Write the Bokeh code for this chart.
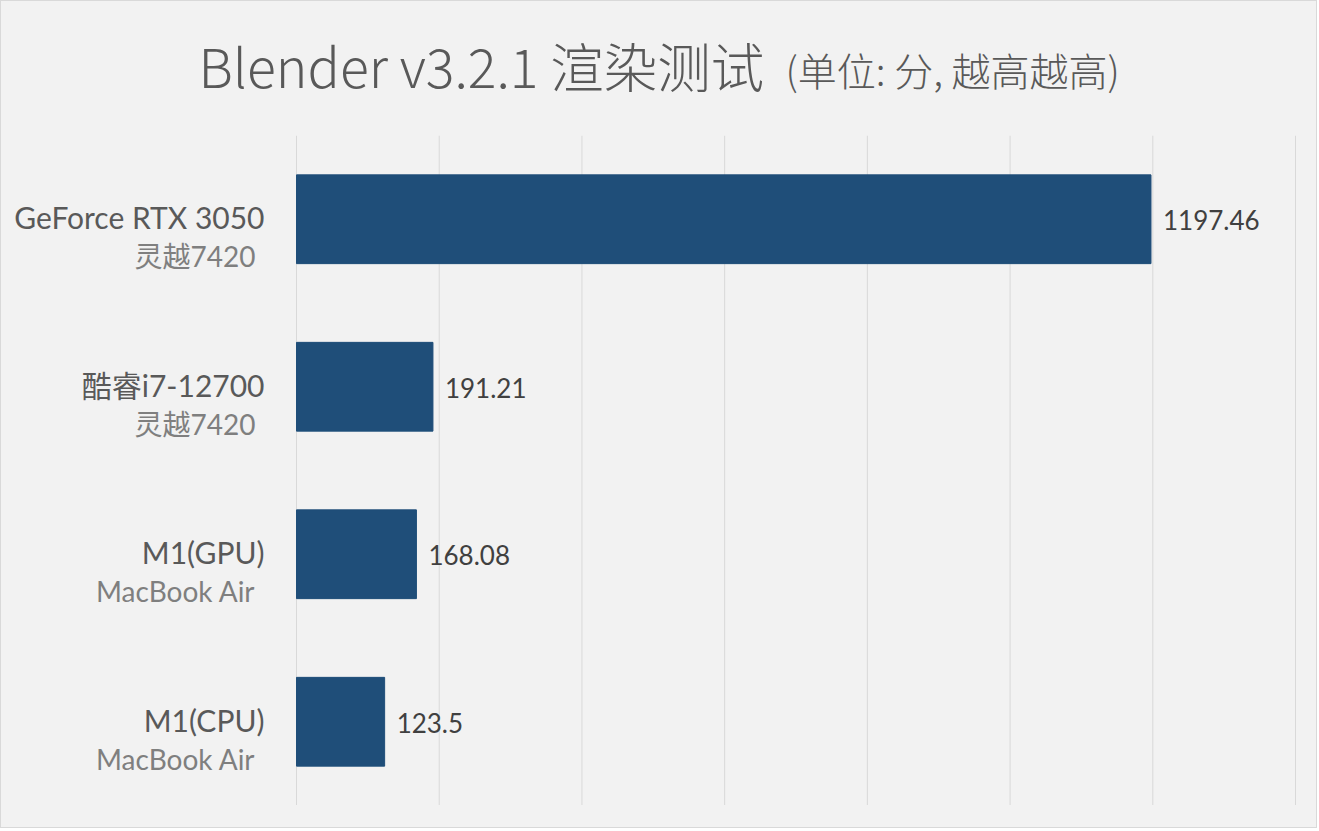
from bokeh.plotting import figure
from bokeh.layouts import column
from bokeh.models import ColumnDataSource, FactorRange, Range1d, Spacer
from bokeh.core.properties import value
from bokeh.embed import file_html
from bokeh.resources import INLINE

# ---- data ----
categories = ["GeForce RTX 3050", "酷睿i7-12700", "M1(GPU)", "M1(CPU)"]
sub_labels = ["灵越7420", "灵越7420", "MacBook Air", "MacBook Air"]
scores = [1197.46, 191.21, 168.08, 123.5]
score_labels = ["1197.46", "191.21", "168.08", "123.5"]
grid_ticks = [0, 200, 400, 600, 800, 1000, 1200, 1400]
title_main = "Blender v3.2.1 渲染测试"
title_sub = "(单位: 分, 越高越高)"

BG = "#f2f2f2"
BAR = "#1f4e79"
GRID = "#d9d9d9"
LAT = "Lato, 'Noto Sans CJK SC'"
CJK = "'Noto Sans CJK SC Light', 'Noto Sans CJK SC'"

W = 1315
TITLE_H = 134
MAIN_H = 670
FOOT_H = 22

# ---- title strip ----
t = figure(width=W, height=TITLE_H, output_backend="svg", toolbar_location=None,
           x_range=Range1d(0, W), y_range=Range1d(0, TITLE_H),
           x_axis_location=None, y_axis_location=None, min_border=0)
t.xgrid.visible = False
t.ygrid.visible = False
t.background_fill_color = BG
t.border_fill_color = BG
t.outline_line_color = None
t.text(x=[197], y=[TITLE_H - 63], text=[title_main], text_align="left", text_baseline="middle",
       text_font=value(CJK), text_font_size="53.5px", text_color="#595959")
t.text(x=[784], y=[TITLE_H - 67], text=[title_sub], text_align="left", text_baseline="middle",
       text_font=value(CJK), text_font_size="39px", text_color="#595959")

# ---- main chart ----
src = ColumnDataSource(dict(cat=categories, sub=sub_labels, score=scores,
                            label=score_labels, zero=[0] * len(categories)))
gsrc = ColumnDataSource(dict(tick=grid_ticks))

ppu = (1294 - 295) / (grid_ticks[-1] - grid_ticks[0])   # pixels per unit
p = figure(width=W, height=MAIN_H, output_backend="svg", toolbar_location=None,
           x_range=Range1d(grid_ticks[0] - 295 / ppu, grid_ticks[-1] + (W - 1294) / ppu),
           y_range=FactorRange(factors=list(reversed(categories)), range_padding=0),
           x_axis_location=None, y_axis_location=None, min_border=0)
p.xgrid.visible = False
p.ygrid.visible = False
p.background_fill_color = BG
p.border_fill_color = BG
p.outline_line_color = None

# vertical gridlines spanning the category band
p.segment(x0="tick", x1="tick", y0=0, y1=len(categories), source=gsrc,
          line_color=GRID, line_width=1)

p.hbar(y="cat", left="zero", right="score", height=0.53, source=src,
       fill_color=BAR, line_color=BAR)

# value labels
p.text(x="score", y="cat", text="label", source=src,
       x_offset=12, y_offset=1, text_align="left", text_baseline="middle",
       text_font=value(LAT), text_font_size="26px", text_color="#404040")
# category labels
p.text(x="zero", y="cat", text="cat", source=src,
       x_offset=-32, y_offset=-2, text_align="right", text_baseline="middle",
       text_font=value(LAT), text_font_size="30px", text_color="#595959")
p.text(x="zero", y="cat", text="sub", source=src,
       x_offset=-41, y_offset=37, text_align="right", text_baseline="middle",
       text_font=value(LAT), text_font_size="28px", text_color="#7f7f7f")

foot = Spacer(width=W, height=FOOT_H, styles={"background-color": BG})

layout = column(t, p, foot, spacing=0,
                styles={"border": "1px solid #d9d9d9", "background-color": BG})
open("out.html", "w").write(file_html(layout, INLINE))
